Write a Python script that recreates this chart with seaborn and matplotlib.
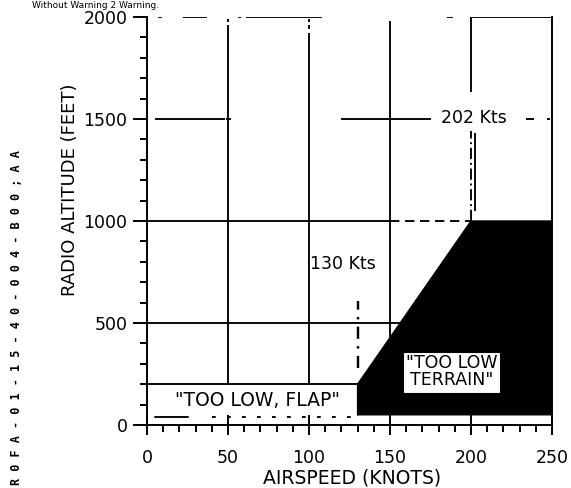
import matplotlib
matplotlib.use("Agg")
import matplotlib.pyplot as plt
import seaborn as sns
import pandas as pd
from matplotlib.patches import Rectangle

# ---------------- data ----------------
airspeed_ticks = [0, 50, 100, 150, 200, 250]
airspeed_minor = list(range(0, 251, 10))
altitude_ticks = [0, 500, 1000, 1500, 2000]
altitude_minor = list(range(0, 2001, 100))

# "TOO LOW TERRAIN" warning envelope (knots, feet)
envelope_speed = [130, 130, 200, 250, 250, 130]
envelope_alt = [50, 200, 1000, 1000, 50, 50]

# "TOO LOW, FLAP" region
flap_box_speed = [0, 130]
flap_box_alt = [50, 200]

# label box inside the terrain envelope
terrain_box_speed = [158, 218]
terrain_box_alt = [157, 358]

flap_speed_kts = 130
terrain_speed_kts = 202

# ---------------- style ----------------
sns.set_style("ticks")
plt.rcParams['font.family'] = ['DejaVu Sans']
plt.rcParams['axes.linewidth'] = 1.4
plt.rcParams['text.color'] = 'black'
plt.rcParams['xtick.color'] = 'black'
plt.rcParams['ytick.color'] = 'black'
plt.rcParams['axes.edgecolor'] = 'black'

fig = plt.figure(figsize=(5.71, 4.88), dpi=100)
ax = fig.add_axes([147 / 571, 1 - 425 / 488, 405 / 571, 408 / 488])
ax.set_xlim(0, 250)
ax.set_ylim(0, 2000)

K = 'black'
lw = 1.35

# grid lines (scanned chart, partly broken)
def seg(x0, x1, y0, y1, ls='-'):
    ax.plot([x0, x1], [y0, y1], color=K, lw=lw, ls=ls, zorder=1,
            solid_capstyle='butt')

# vertical
seg(50, 50, 200, 1960); seg(50, 50, 1975, 1990)
seg(100, 100, 200, 1920); seg(100, 100, 1940, 1960); seg(100, 100, 1975, 1990)
seg(150, 150, 430, 1980)
seg(200, 200, 1630, 2000)
ax.plot([200, 200], [1000, 1440], color=K, lw=lw, ls=(0, (6, 2, 1, 2)), zorder=1)
seg(202.5, 202.5, 1050, 1430)
# horizontal
seg(0, 156, 500, 500)
seg(0, 150, 1000, 1000)
ax.plot([150, 200], [1000, 1000], color=K, lw=lw, ls=(0, (5, 3)), zorder=1)
seg(5, 48, 1500, 1500); seg(49, 52, 1500, 1500)
seg(120, 175, 1500, 1500)
seg(234, 239, 1500, 1500); seg(247, 249, 1500, 1500)
# top edge at 2000
seg(7, 9, 2000, 2000); seg(22, 37, 2000, 2000); seg(56, 58, 2000, 2000)
seg(61, 108, 2000, 2000); seg(185, 189, 2000, 2000); seg(200, 250, 2000, 2000)

# warning envelope (black fill)
env = pd.DataFrame({'speed': envelope_speed, 'alt': envelope_alt})
ax.fill(env['speed'], env['alt'], color=K, zorder=3, lw=0)
sns.lineplot(data=env, x='speed', y='alt', sort=False, estimator=None,
             color=K, lw=1.0, ax=ax, zorder=3)

# terrain label box
ax.add_patch(Rectangle((terrain_box_speed[0], terrain_box_alt[0]),
                       terrain_box_speed[1] - terrain_box_speed[0],
                       terrain_box_alt[1] - terrain_box_alt[0],
                       facecolor='white', edgecolor=K, lw=0.8, zorder=4))
ax.text(sum(terrain_box_speed) / 2, sum(terrain_box_alt) / 2 + 5,
        '"TOO LOW\nTERRAIN"', ha='center', va='center', fontsize=12.5,
        linespacing=0.95, zorder=5)

# flap box
seg(flap_box_speed[0], flap_box_speed[1], flap_box_alt[1], flap_box_alt[1])
ax.plot([5, 25], [flap_box_alt[0] - 10, flap_box_alt[0] - 10], color=K, lw=lw)
ax.plot([40, 130], [flap_box_alt[0] - 10, flap_box_alt[0] - 10], color=K, lw=lw,
        ls=(0, (2, 6)))
ax.text(68, 122, '"TOO LOW, FLAP"', ha='center', va='center', fontsize=13.5, zorder=5)

# speed markers
ax.plot([flap_speed_kts, flap_speed_kts], [280, 610], color=K, lw=lw + 0.4,
        ls=(0, (5, 3, 1, 3)), zorder=2)
ax.text(121, 790, '130 Kts', ha='center', va='center', fontsize=12.5)
ax.text(terrain_speed_kts, 1505, '202 Kts', ha='center', va='center', fontsize=12.5,
        bbox=dict(facecolor='white', edgecolor='none', pad=1.5))

# axes & ticks
sns.despine(ax=ax, top=True, right=False)
ax.set_xticks(airspeed_ticks)
ax.set_xticks(airspeed_minor, minor=True)
ax.set_yticks(altitude_ticks)
ax.set_yticks(altitude_minor, minor=True)
ax.set_xticklabels([str(v) for v in airspeed_ticks], fontsize=12.5)
ax.set_yticklabels([str(v) for v in altitude_ticks], fontsize=12.5)
ax.tick_params(axis='x', which='major', direction='inout', length=14, width=1.4, pad=10)
ax.tick_params(axis='x', which='minor', direction='out', length=5, width=1.4)
ax.tick_params(axis='y', which='major', direction='out', length=10, width=1.4, pad=4)
ax.tick_params(axis='y', which='minor', direction='out', length=5, width=1.4)
ax.tick_params(axis='y', which='both', right=False)
ax.set_xlabel('')
ax.set_ylabel('')

fig.text(352 / 571, 1 - 478 / 488, 'AIRSPEED (KNOTS)', ha='center', va='center',
         fontsize=13.5)
fig.text(70 / 571, 1 - 190 / 488, 'RADIO ALTITUDE (FEET)', ha='center', va='center',
         rotation=90, fontsize=13)
fig.text(17 / 571, 1 - 318 / 488, 'R 0 F A - 0 1 - 1 5 - 4 0 - 0 0 4 - B 0 0 ; A A',
         ha='center', va='center', rotation=90, fontsize=8.5,
         family='DejaVu Sans Mono', weight='bold')
fig.text(32 / 571, 1 - 1 / 488, 'Without Warning 2 Warning.', ha='left',
         va='top', fontsize=6.5)

fig.savefig('out.png', dpi=100, facecolor='white')
